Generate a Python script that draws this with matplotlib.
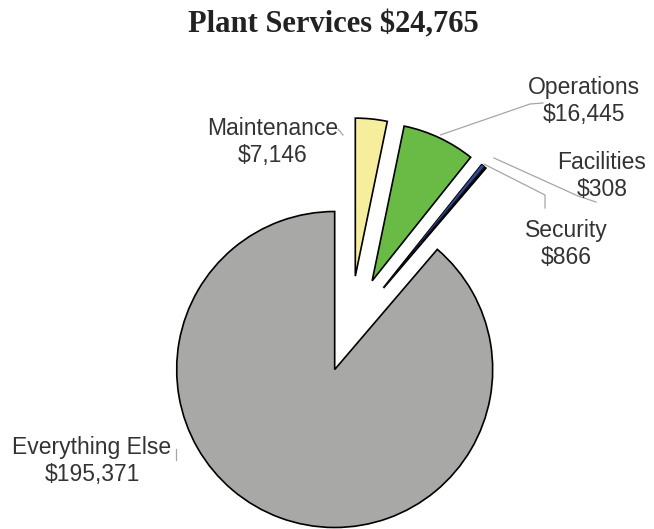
import matplotlib
matplotlib.use("Agg")
import matplotlib.pyplot as plt
import numpy as np

# ---- data ----
categories = ["Maintenance", "Operations", "Security", "Facilities", "Everything Else"]
values = [7146, 16445, 866, 308, 195371]
title_total = 24765
colors = ["#F6EE9C", "#6ABB45", "#34489A", "#111111", "#A8A8A6"]
explode = [0.33, 0.33, 0.33, 0.33, 0.28]

# ---- layout helpers (pixel -> data) ----
W, H = 654, 529
SCALE = 158.0
CX, CY = 350.0, 328.0


def px(x, y):
    return ((x - CX) / SCALE, (CY - y) / SCALE)


fig = plt.figure(figsize=(W / 100, H / 100), dpi=100)
ax = fig.add_axes([0, 0, 1, 1])

wedges, _ = ax.pie(values, colors=colors, explode=explode, startangle=90,
                   counterclock=False, radius=1.0,
                   wedgeprops=dict(edgecolor="black", linewidth=1.2))
wedges[categories.index("Security")].set_linewidth(0.7)
wedges[categories.index("Facilities")].set_linewidth(0.9)
ax.set_xlim(-CX / SCALE, (W - CX) / SCALE)
ax.set_ylim(-(H - CY) / SCALE, CY / SCALE)
ax.set_aspect("auto")
ax.axis("off")


def arc_point(w, frac=1.0):
    t = np.deg2rad((w.theta1 + w.theta2) / 2)
    c = w.center
    return (c[0] + w.r * frac * np.cos(t), c[1] + w.r * frac * np.sin(t))


lead = dict(color="#A6A6A6", lw=0.9)
txt = dict(fontsize=16.5, family="Liberation Sans", color="#333333",
           ha="center", va="center", linespacing=1.2, parse_math=False)

label_pos = {
    "Maintenance": (273, 142),
    "Operations": (584, 101),
    "Security": (566, 244),
    "Facilities": (602, 176),
    "Everything Else": (92, 461),
}
for cat, v in zip(categories, values):
    x, y = px(*label_pos[cat])
    ax.text(x, y, f"{cat}\n${v:,}", **txt)

# leader lines
w_ops = wedges[categories.index("Operations")]
p0 = arc_point(w_ops, 1.02)
p1, p2 = px(530, 104), px(543, 103)
ax.plot([p0[0], p1[0], p2[0]], [p0[1], p1[1], p2[1]], **lead)

w_fac = wedges[categories.index("Facilities")]
p0 = arc_point(w_fac, 1.08)
p1, p2 = px(578, 196), px(596, 202)
ax.plot([p0[0], p1[0], p2[0]], [p0[1], p1[1], p2[1]], **lead)

w_sec = wedges[categories.index("Security")]
p0 = arc_point(w_sec, 1.01)
p1, p2 = px(545, 195), px(545, 208)
ax.plot([p0[0], p1[0], p2[0]], [p0[1], p1[1], p2[1]], **lead)

p1, p2 = px(338, 129), px(343, 135)
ax.plot([p1[0], p2[0]], [p1[1], p2[1]], **lead)
p1, p2 = px(176, 449), px(176, 460)
ax.plot([p1[0], p2[0]], [p1[1], p2[1]], **lead)

fig.text(333 / W, 1 - 32 / H, f"Plant Services ${title_total:,}",
         fontsize=22, family="Liberation Serif", fontweight="bold",
         color="#222222", ha="center", va="baseline", parse_math=False)

fig.savefig("out.png", dpi=100, facecolor="white")
